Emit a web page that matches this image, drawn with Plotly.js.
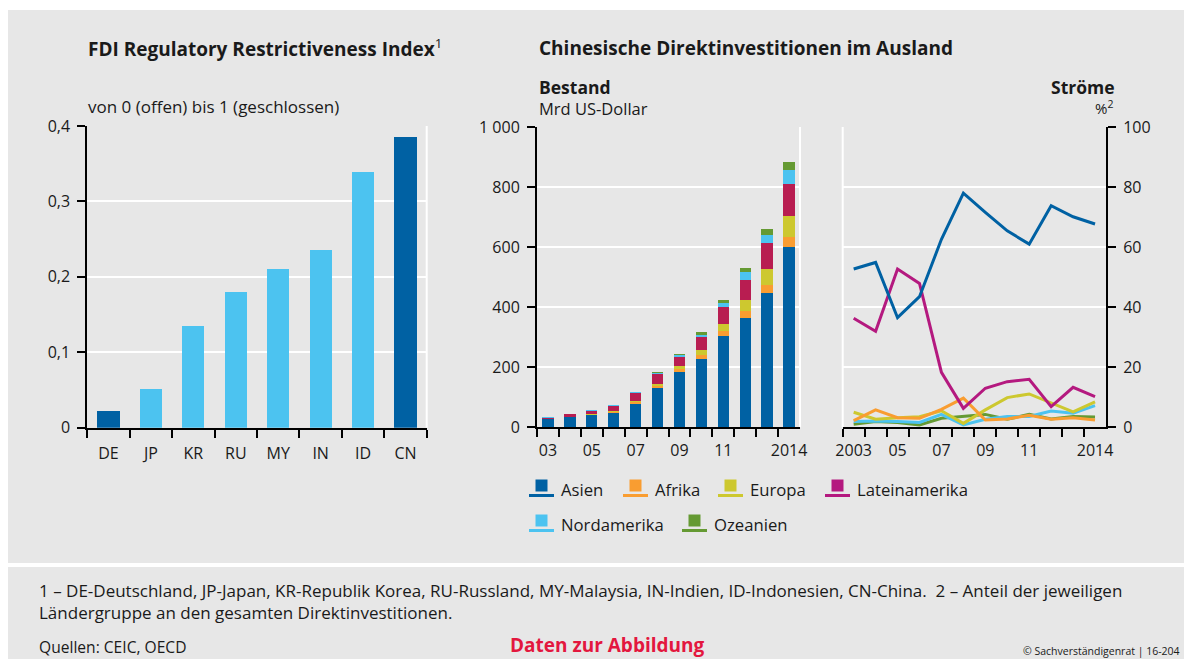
<!DOCTYPE html>
<html>
<head>
<meta charset="utf-8">
<script src="https://cdn.plot.ly/plotly-3.0.1.min.js"></script>
<style>
  html, body { margin: 0; padding: 0; background: #ffffff; }
  #chart { width: 1184px; height: 659px; }
</style>
</head>
<body>
<div id="chart"></div>
<script>
// ---------- DATA ----------
const fdiCountries = ['DE', 'JP', 'KR', 'RU', 'MY', 'IN', 'ID', 'CN'];
const fdiIndex = [0.022, 0.051, 0.135, 0.180, 0.210, 0.236, 0.339, 0.385];
const fdiHighlight = ['DE', 'CN'];

const years = ['2003', '2004', '2005', '2006', '2007', '2008', '2009', '2010', '2011', '2012', '2013', '2014'];
const stockTickLabels = ['03', '', '05', '', '07', '', '09', '', '11', '', '', '2014'];
const flowTickLabels = ['2003', '', '05', '', '07', '', '09', '', '11', '', '', '2014'];

// Bestand, Mrd US-Dollar
const asienStock = [26.6, 33.4, 41.0, 48.0, 79.2, 131.3, 185.5, 228.1, 303.4, 364.4, 447.4, 601.0];
const afrikaStock = [0.5, 0.9, 1.6, 2.6, 4.5, 7.8, 9.3, 13.0, 16.2, 21.7, 26.2, 32.4];
const europaStock = [0.5, 0.7, 1.3, 2.3, 4.4, 5.1, 8.7, 15.7, 24.5, 37.0, 53.2, 69.4];
const lateinStock = [4.6, 8.3, 11.5, 19.7, 24.7, 32.2, 30.6, 43.9, 55.2, 68.2, 86.1, 106.1];
const nordStock = [0.5, 0.9, 1.3, 1.6, 3.2, 3.7, 5.2, 7.8, 13.4, 25.5, 28.6, 47.9];
const ozeanStock = [0.5, 0.5, 0.7, 0.9, 1.8, 3.8, 6.4, 8.6, 12.0, 15.1, 19.0, 25.9];

// Ströme, % der gesamten Direktinvestitionen
const asienFlow = [52.7, 54.9, 36.5, 43.5, 62.6, 78.0, 71.6, 65.4, 61.0, 73.8, 70.1, 67.7];
const lateinFlow = [36.3, 32.0, 52.7, 47.9, 18.3, 6.3, 13.0, 15.2, 16.0, 6.9, 13.3, 10.2];
const europaFlow = [5.0, 2.7, 3.2, 3.5, 5.5, 1.3, 5.8, 9.9, 11.1, 8.0, 5.1, 8.5];
const afrikaFlow = [2.2, 5.8, 3.2, 3.0, 6.0, 9.7, 2.4, 2.8, 4.0, 2.7, 3.2, 2.4];
const nordFlow = [1.9, 2.1, 1.9, 1.6, 4.3, 0.8, 2.7, 3.6, 3.6, 5.4, 4.7, 7.2];
const ozeanFlow = [1.0, 1.9, 1.6, 0.8, 3.0, 3.6, 4.3, 2.7, 4.3, 2.8, 3.6, 3.4];

const regionNames = ['Asien', 'Afrika', 'Europa', 'Lateinamerika', 'Nordamerika', 'Ozeanien'];

// ---------- STYLE ----------
const W = 1184, H = 659;
const px = v => v / W;
const py = v => 1 - v / H;
const FONT = 'Open Sans, Liberation Sans, Arial, sans-serif';
const TXT = '#1a1a1a';
const BG = '#e7e7e7';
const DARK = '#0061a3', LIGHT = '#4cc3f0';
const barColors = {Asien: '#0061a3', Afrika: '#f99d31', Europa: '#cdc82f', Lateinamerika: '#b81d51', Nordamerika: '#4cc3f0', Ozeanien: '#659a33'};
const lineColors = {Asien: '#0061a3', Afrika: '#f99d31', Europa: '#cdc82f', Lateinamerika: '#b4197f', Nordamerika: '#4cc3f0', Ozeanien: '#659a33'};

const stocks = {Asien: asienStock, Afrika: afrikaStock, Europa: europaStock, Lateinamerika: lateinStock, Nordamerika: nordStock, Ozeanien: ozeanStock};
const flows = {Asien: asienFlow, Afrika: afrikaFlow, Europa: europaFlow, Lateinamerika: lateinFlow, Nordamerika: nordFlow, Ozeanien: ozeanFlow};

const traces = [];
traces.push({
  type: 'bar', x: fdiCountries, y: fdiIndex, xaxis: 'x', yaxis: 'y',
  marker: {color: fdiCountries.map(c => fdiHighlight.includes(c) ? DARK : LIGHT)},
  hoverinfo: 'x+y', showlegend: false
});
regionNames.forEach(r => {
  traces.push({
    type: 'bar', name: r, x: years, y: stocks[r], xaxis: 'x2', yaxis: 'y2',
    marker: {color: barColors[r]}, showlegend: false
  });
});
['Ozeanien', 'Nordamerika', 'Europa', 'Afrika', 'Lateinamerika', 'Asien'].forEach(r => {
  traces.push({
    type: 'scatter', mode: 'lines', name: r, x: years, y: flows[r], xaxis: 'x3', yaxis: 'y3',
    line: {color: lineColors[r], width: 3}, showlegend: false
  });
});

const tickFont = {family: FONT, size: 16, color: TXT};
const xCommon = {
  type: 'category', tickson: 'boundaries', ticks: 'outside', ticklen: 8, tickwidth: 2, tickcolor: '#000',
  showline: true, linecolor: '#000', linewidth: 2, showgrid: false, zeroline: false, tickangle: 0,
  tickfont: tickFont, ticklabelstandoff: 7, fixedrange: true
};
const yCommon = {
  ticks: 'outside', ticklen: 8, tickwidth: 2, tickcolor: '#000',
  showline: true, linecolor: '#000', linewidth: 2, showgrid: true, gridcolor: '#ffffff', gridwidth: 2,
  zeroline: false, tickfont: tickFont, ticklabelstandoff: 4, fixedrange: true
};

const shapes = [
  {type: 'rect', xref: 'paper', yref: 'paper', x0: px(8), x1: px(1184), y0: py(10), y1: py(563), fillcolor: BG, line: {width: 0}, layer: 'below'},
  {type: 'rect', xref: 'paper', yref: 'paper', x0: px(8), x1: px(1184), y0: py(567), y1: py(659), fillcolor: BG, line: {width: 0}, layer: 'below'},
  // white frame lines
  {type: 'line', xref: 'x domain', yref: 'y domain', x0: 1, x1: 1, y0: 0, y1: 1, line: {color: '#fff', width: 2}, layer: 'below'},
  {type: 'line', xref: 'x2 domain', yref: 'y2 domain', x0: 1, x1: 1, y0: 0, y1: 1, line: {color: '#fff', width: 2}, layer: 'below'},
  {type: 'line', xref: 'x3 domain', yref: 'y3 domain', x0: 0, x1: 0, y0: 0, y1: 1, line: {color: '#fff', width: 2}, layer: 'below'}
];

const annotations = [];
function txt(text, x, y, opts) {
  annotations.push(Object.assign({
    text: text, xref: 'paper', yref: 'paper', x: px(x), y: py(y), xanchor: 'left', yanchor: 'middle',
    showarrow: false, font: {family: FONT, size: 17, color: TXT}
  }, opts || {}));
}

// titles
const titleFont = {family: FONT, size: 19, color: TXT};
txt('<b>FDI Regulatory Restrictiveness Index</b><sup>1</sup>', 86, 48, {font: titleFont});
txt('<b>Chinesische Direktinvestitionen im Ausland</b>', 537, 48, {font: titleFont});
txt('von 0 (offen) bis 1 (geschlossen)', 86, 106);
txt('<b>Bestand</b>', 537, 87, {font: {family: FONT, size: 17.5, color: TXT}});
txt('Mrd US-Dollar', 537, 108, {font: {family: FONT, size: 16.5, color: TXT}});
txt('<b>Ströme</b>', 1117, 87, {xanchor: 'right', font: {family: FONT, size: 17.5, color: TXT}});
txt('%<sup>2</sup>', 1115, 107, {xanchor: 'right', font: {family: FONT, size: 15, color: TXT}});

// legend (custom)
const legendPos = [
  {r: 'Asien', lx: 529, y: 0},
  {r: 'Afrika', lx: 623, y: 0},
  {r: 'Europa', lx: 718, y: 0},
  {r: 'Lateinamerika', lx: 825, y: 0},
  {r: 'Nordamerika', lx: 529, y: 1},
  {r: 'Ozeanien', lx: 682, y: 1}
];
legendPos.forEach(p => {
  const lineY = p.y === 0 ? 495.5 : 530.5;
  const c = p.lx + 12.5;
  shapes.push({type: 'rect', xref: 'paper', yref: 'paper', x0: px(c - 6), x1: px(c + 6), y0: py(lineY - 4), y1: py(lineY - 16), fillcolor: lineColors[p.r], line: {width: 0}});
  shapes.push({type: 'line', xref: 'paper', yref: 'paper', x0: px(p.lx), x1: px(p.lx + 25), y0: py(lineY), y1: py(lineY), line: {color: lineColors[p.r], width: 3}});
  txt(p.r, p.lx + 30, lineY - 6, {font: {family: FONT, size: 16.7, color: TXT}});
});

// footer
txt('1 – DE-Deutschland, JP-Japan, KR-Republik Korea, RU-Russland, MY-Malaysia, IN-Indien, ID-Indonesien, CN-China.  2 – Anteil der jeweiligen<br>Ländergruppe an den gesamten Direktinvestitionen.', 37, 601.5, {align: 'left'});
txt('Quellen: CEIC, OECD', 37, 647, {font: {family: FONT, size: 15.6, color: TXT}});
txt('<b>Daten zur Abbildung</b>', 508, 645, {font: {family: FONT, size: 19, color: '#e3173e'}});
txt('© Sachverständigenrat | 16-204', 1182, 651, {xanchor: 'right', font: {family: FONT, size: 10.5, color: TXT}});

const layout = {
  width: W, height: H,
  margin: {l: 0, r: 0, t: 0, b: 0},
  paper_bgcolor: '#ffffff', plot_bgcolor: 'rgba(0,0,0,0)',
  separators: ', ',
  showlegend: false,
  barmode: 'stack',
  bargap: 0.48,
  font: {family: FONT, color: TXT},
  xaxis: Object.assign({}, xCommon, {domain: [px(87.3), px(426.7)], anchor: 'y', ticklabelstandoff: 10}),
  yaxis: Object.assign({}, yCommon, {domain: [py(427.7), py(126)], anchor: 'x', range: [0, 0.4], dtick: 0.1, tick0: 0}),
  xaxis2: Object.assign({}, xCommon, {domain: [px(537), px(800)], anchor: 'y2', tickmode: 'array', tickvals: years, ticktext: stockTickLabels}),
  yaxis2: Object.assign({}, yCommon, {domain: [py(427.3), py(127)], anchor: 'x2', range: [0, 1000], dtick: 200, tick0: 0, separatethousands: true}),
  xaxis3: Object.assign({}, xCommon, {domain: [px(842.7), px(1106)], anchor: 'y3', tickmode: 'array', tickvals: years, ticktext: flowTickLabels, range: [-0.5, 11.5]}),
  yaxis3: Object.assign({}, yCommon, {domain: [py(427.3), py(127)], anchor: 'x3', side: 'right', range: [0, 100], dtick: 20, tick0: 0}),
  shapes: shapes,
  annotations: annotations
};

Plotly.newPlot('chart', traces, layout, {displayModeBar: false, staticPlot: true});
</script>
</body>
</html>
